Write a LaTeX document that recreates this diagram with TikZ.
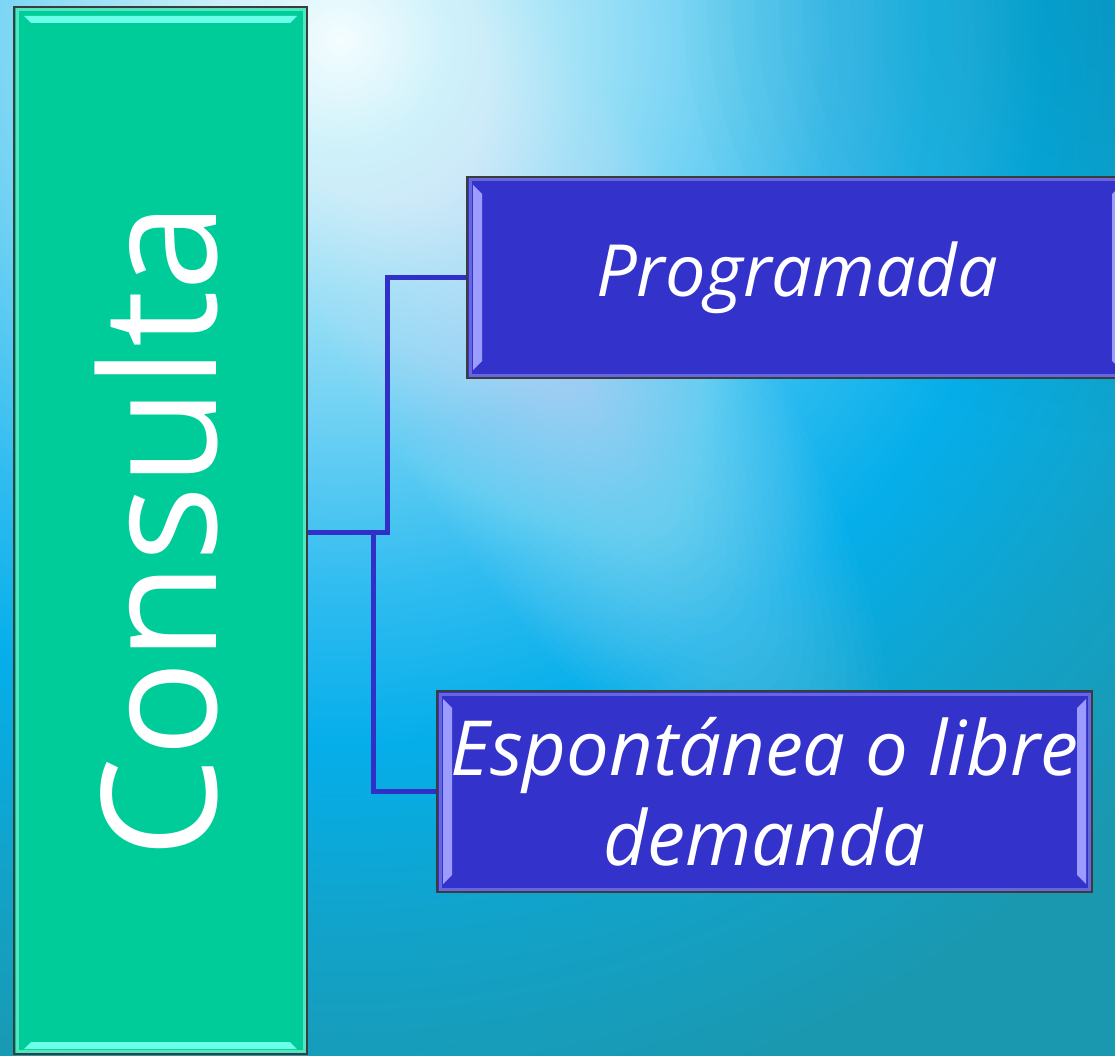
\documentclass[tikz,border=0pt]{standalone}
\usepackage{fontspec}
\setmainfont{Open Sans}
\usetikzlibrary{calc}
\definecolor{bg0}{HTML}{F4FDFF}
\definecolor{bg1}{HTML}{C4EEF9}
\definecolor{bg2}{HTML}{78D4F4}
\definecolor{bg3}{HTML}{30BCF0}
\definecolor{bg4}{HTML}{05AEEA}
\definecolor{bg5}{HTML}{12A2C8}
\definecolor{bg6}{HTML}{1A98B0}
\definecolor{cgreen}{HTML}{00CC99}
\definecolor{ghi}{HTML}{6CFFE8}
\definecolor{gside}{HTML}{50E6C0}
\definecolor{cblue}{HTML}{3333CC}
\definecolor{bhi}{HTML}{9C9CFF}
\definecolor{bedge}{HTML}{6666DD}
\definecolor{cline}{HTML}{3030C8}
\definecolor{cborder}{HTML}{3C3C3C}
\pgfdeclareradialshading{bgrad}{\pgfpoint{0bp}{0bp}}{color(0bp)=(bg0); color(3.2bp)=(bg1); color(8bp)=(bg2); color(12.5bp)=(bg3); color(16bp)=(bg4); color(20.5bp)=(bg5); color(25bp)=(bg6); color(50bp)=(bg6)}
\tikzset{
  greenbox/.style={rectangle, fill=cgreen, draw=cborder, line width=1.8pt, inner sep=0pt,
    text=white, font=\fontsize{160}{170}\selectfont,
    path picture={
      \draw[gside, line width=3pt] ($(path picture bounding box.north west)+(3pt,-3pt)$) rectangle ($(path picture bounding box.south east)+(-3pt,3pt)$);
      \fill[ghi] ($(path picture bounding box.north west)+(10pt,-9pt)$) -- ($(path picture bounding box.north east)+(-10pt,-9pt)$) -- ($(path picture bounding box.north east)+(-17pt,-16pt)$) -- ($(path picture bounding box.north west)+(17pt,-16pt)$) -- cycle;
      \fill[ghi] ($(path picture bounding box.south west)+(10pt,5pt)$) -- ($(path picture bounding box.south east)+(-10pt,5pt)$) -- ($(path picture bounding box.south east)+(-17pt,12pt)$) -- ($(path picture bounding box.south west)+(17pt,12pt)$) -- cycle;
    }},
  bluebox/.style={rectangle, fill=cblue, draw=cborder, line width=1.8pt, inner sep=0pt,
    text=white, align=center, font=\itshape\fontsize{72}{88}\selectfont,
    path picture={
      \draw[bedge, line width=3pt] ($(path picture bounding box.north west)+(3pt,-3pt)$) rectangle ($(path picture bounding box.south east)+(-3pt,3pt)$);
      \fill[bhi] ($(path picture bounding box.north west)+(6pt,-8pt)$) -- ($(path picture bounding box.north west)+(15pt,-17pt)$) -- ($(path picture bounding box.south west)+(15pt,17pt)$) -- ($(path picture bounding box.south west)+(6pt,8pt)$) -- cycle;
      \fill[bhi] ($(path picture bounding box.north east)+(-6pt,-8pt)$) -- ($(path picture bounding box.north east)+(-15pt,-17pt)$) -- ($(path picture bounding box.south east)+(-15pt,17pt)$) -- ($(path picture bounding box.south east)+(-6pt,8pt)$) -- cycle;
    }},
  conn/.style={draw=cline, line width=5pt, line join=miter}
}
\begin{document}
\begin{tikzpicture}[x=1pt,y=-1pt]
\useasboundingbox (0,0) rectangle (1115,1056);
\clip (0,0) rectangle (1115,1056);
\shade[shading=bgrad] (-760,-1060) rectangle (1440,1140);
% light diagonal band
\foreach \k in {1,...,32}
  \fill[white, opacity=0.019, rotate around={-58:(540,330)}] (540,330) ellipse ({18.5*\k} and {5.8*\k});
% darker teal towards the top right corner
\foreach \k in {1,...,18}
  \fill[bg6, opacity=0.03] (1115,0) circle ({24*\k});
\node[greenbox, minimum width=293pt, minimum height=1047pt] (cons) at (160.5,530.5) {\rotatebox{90}{Consulta}\hspace*{8pt}};
\node[bluebox, minimum width=660pt, minimum height=201pt] (prog) at (797,277.5) {Programada};
\node[bluebox, minimum width=655pt, minimum height=201pt, font=\itshape\fontsize{76}{90}\selectfont] (esp) at (764.5,791.5) {Espontánea o libre\\demanda};
\coordinate (j1) at (387,532);
\coordinate (j2) at (373,532);
\draw[conn] (cons.east |- j1) -- (j1) |- (prog.west);
\draw[conn] (j2) |- (esp.west);
\end{tikzpicture}
\end{document}
